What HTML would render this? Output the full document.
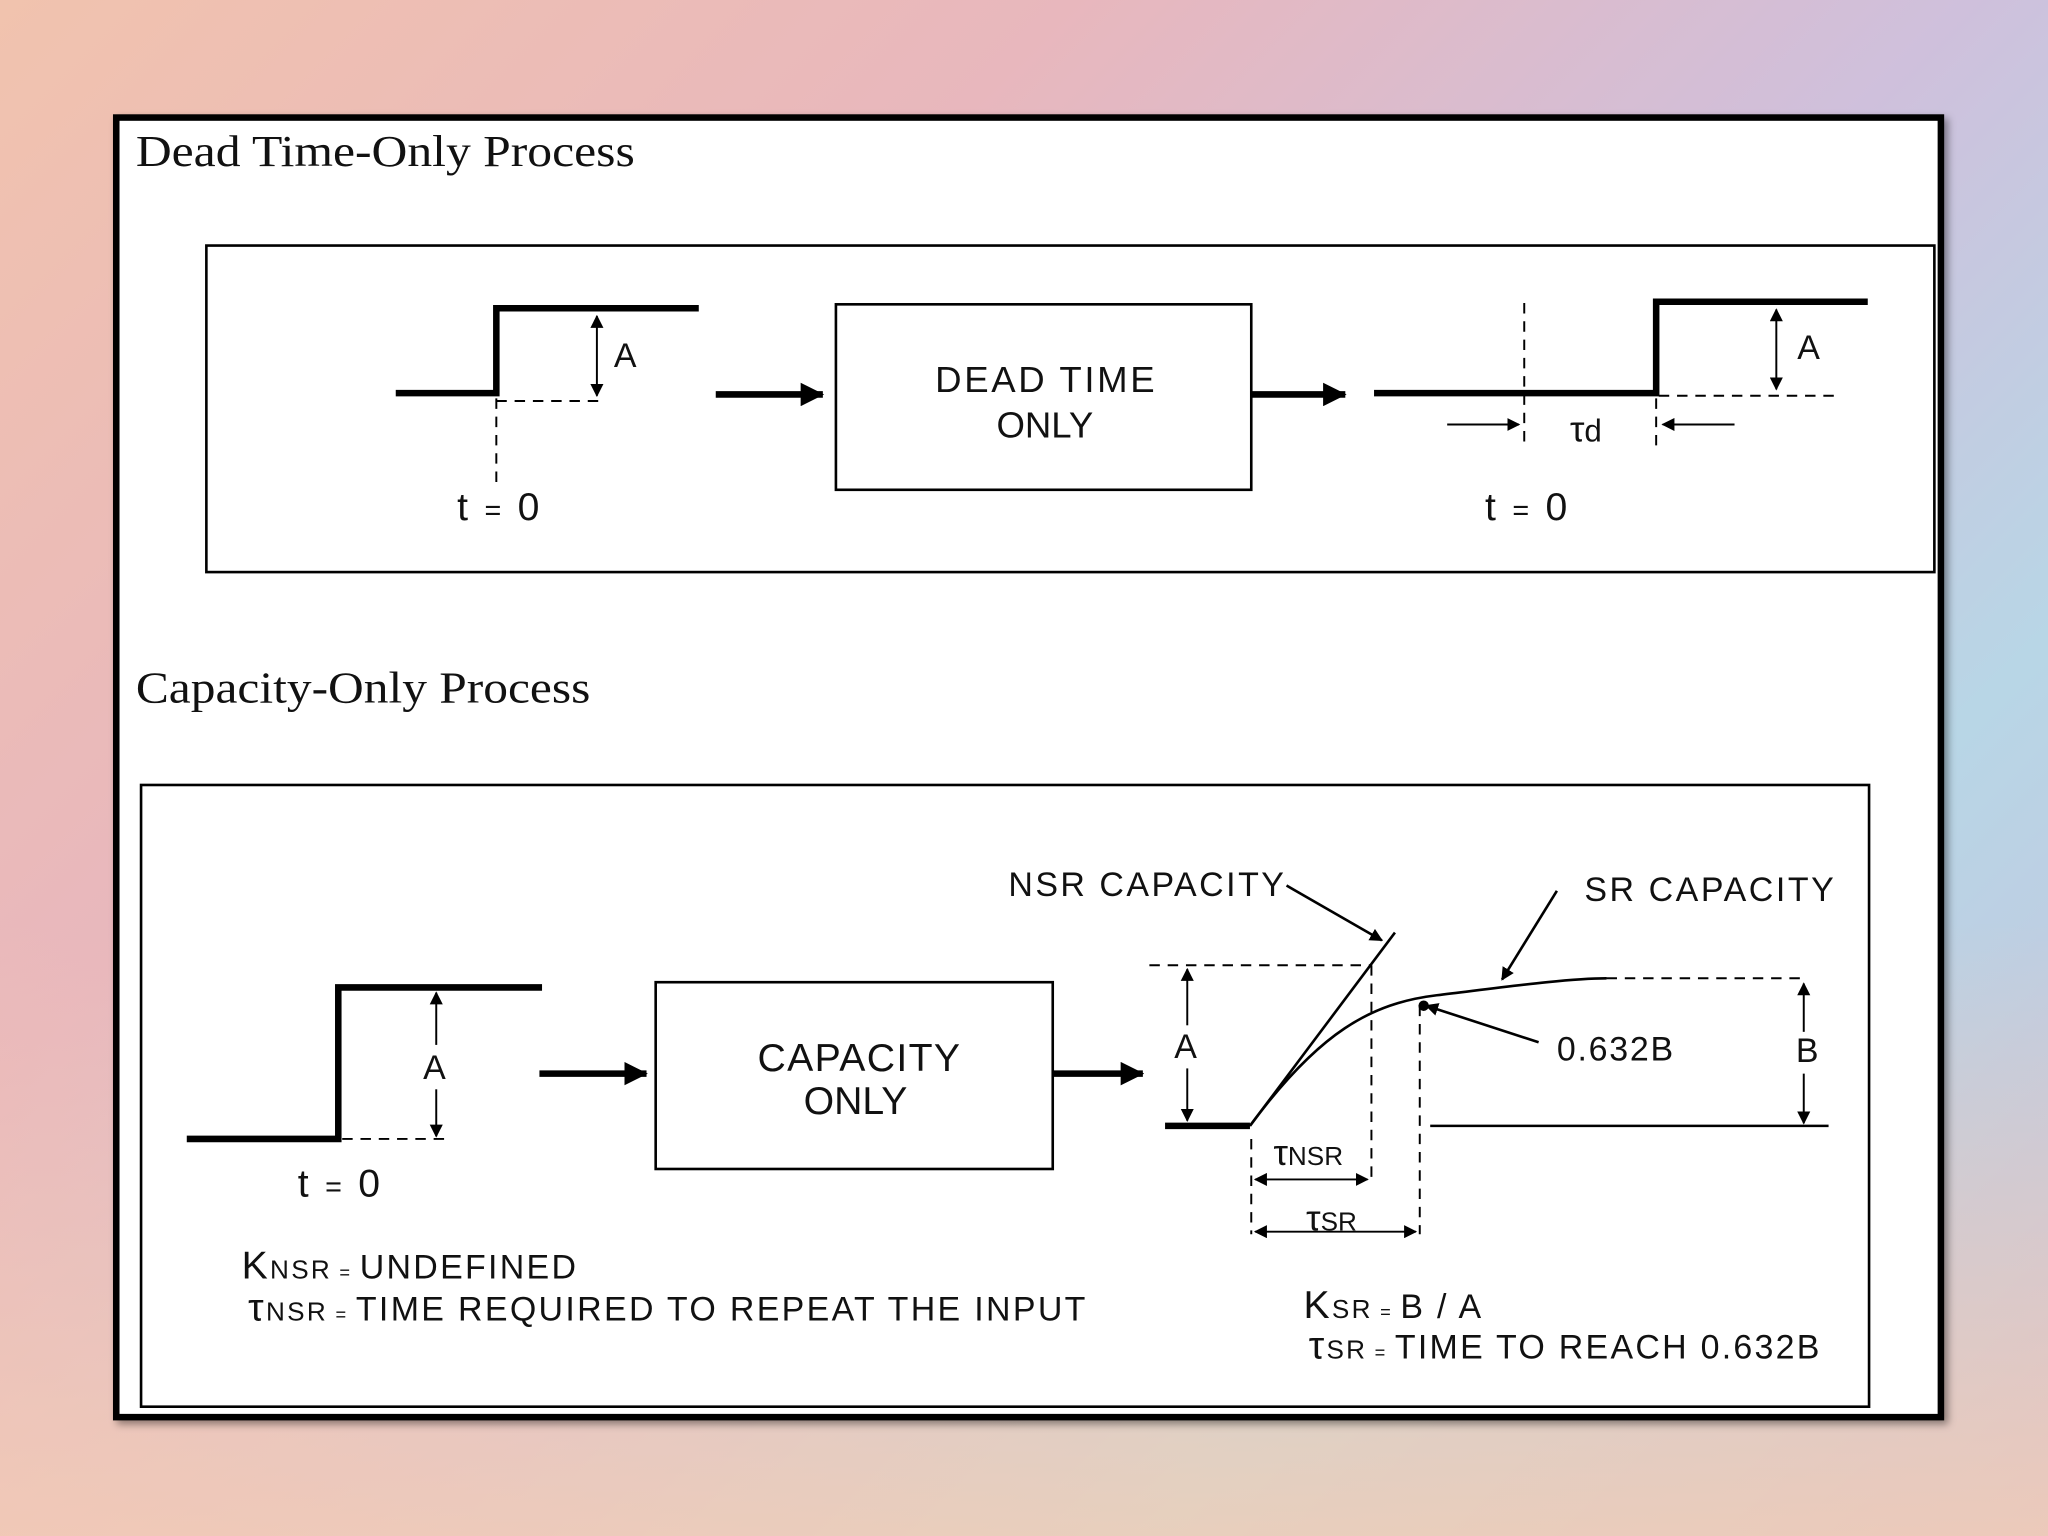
<!DOCTYPE html>
<html><head><meta charset="utf-8"><style>
html,body{margin:0;padding:0;width:2048px;height:1536px;overflow:hidden}
body{background:linear-gradient(135deg,#f1c3ae 0%,#e8b7bd 30%,#cfc0dc 55%,#b8d6e6 75%,#c8bfdc 100%)}
.bg2{position:absolute;left:0;top:0;width:2048px;height:1536px;background:linear-gradient(180deg,rgba(255,255,255,0) 60%,rgba(248,205,175,0.75) 100%)}
svg{position:absolute;left:0;top:0}
text{font-family:"Liberation Sans",sans-serif;fill:#111}
.ser{font-family:"Liberation Serif",serif}
</style></head><body><div class="bg2"></div>
<svg width="2048" height="1536" viewBox="0 0 1568 1176" preserveAspectRatio="none">
<defs>
<marker id="ah" markerWidth="10" markerHeight="10" refX="9" refY="5" orient="auto" markerUnits="userSpaceOnUse"><path d="M0,0 L10,5 L0,10 z" fill="#000"/></marker>
<marker id="big" markerWidth="18" markerHeight="18" refX="17" refY="9" orient="auto" markerUnits="userSpaceOnUse"><path d="M0,0 L18,9 L0,18 z" fill="#000"/></marker>
<marker id="as" markerWidth="10" markerHeight="10" refX="1" refY="5" orient="auto" markerUnits="userSpaceOnUse"><path d="M10,0 L0,5 L10,10 z" fill="#000"/></marker>
<filter id="sh"><feDropShadow dx="3" dy="3" stdDeviation="3" flood-opacity="0.4"/></filter>
</defs>
<rect x="89" y="90" width="1397" height="995" fill="#fff" stroke="#000" stroke-width="5" filter="url(#sh)"/>
<text x="104" y="127" class="ser" font-size="34" textLength="382" lengthAdjust="spacingAndGlyphs">Dead Time-Only Process</text>
<rect x="158" y="188" width="1323" height="250" fill="none" stroke="#000" stroke-width="2"/>
<g stroke="#000" fill="none">
<polyline points="303,301 380,301 380,236 535,236" stroke-width="5"/>
<line x1="380" y1="307" x2="458" y2="307" stroke-width="1.5" stroke-dasharray="8,6"/>
<line x1="380" y1="305" x2="380" y2="375" stroke-width="1.5" stroke-dasharray="8,6"/>
<line x1="457" y1="242" x2="457" y2="303" stroke-width="1.5" marker-start="url(#as)" marker-end="url(#ah)"/>
<line x1="548" y1="302" x2="630" y2="302" stroke-width="5" marker-end="url(#big)"/>
<rect x="640" y="233" width="318" height="142" stroke-width="2"/>
<line x1="958" y1="302" x2="1030" y2="302" stroke-width="5" marker-end="url(#big)"/>
<polyline points="1052,301 1268,301 1268,231 1430,231" stroke-width="5"/>
<line x1="1167" y1="232" x2="1167" y2="342" stroke-width="1.5" stroke-dasharray="8,6"/>
<line x1="1270" y1="303" x2="1410" y2="303" stroke-width="1.5" stroke-dasharray="8,6"/>
<line x1="1268" y1="305" x2="1268" y2="342" stroke-width="1.5" stroke-dasharray="8,6"/>
<line x1="1360" y1="237" x2="1360" y2="298" stroke-width="1.5" marker-start="url(#as)" marker-end="url(#ah)"/>
<line x1="1108" y1="325" x2="1163" y2="325" stroke-width="1.5" marker-end="url(#ah)"/>
<line x1="1328" y1="325" x2="1273" y2="325" stroke-width="1.5" marker-end="url(#ah)"/>
</g>
<text x="470" y="281" font-size="26">A</text>
<text x="350" y="398" font-size="30" textLength="63" lengthAdjust="spacing">t <tspan font-size="22">=</tspan> 0</text>
<text x="716" y="300" font-size="28" textLength="168" lengthAdjust="spacing">DEAD TIME</text>
<text x="800" y="335" font-size="28" text-anchor="middle">ONLY</text>
<text x="1376" y="275" font-size="26">A</text>
<text x="1202" y="338" font-size="28">τ<tspan font-size="24">d</tspan></text>
<text x="1137" y="398" font-size="30" textLength="63" lengthAdjust="spacing">t <tspan font-size="22">=</tspan> 0</text>

<text x="104" y="538" class="ser" font-size="34" textLength="348" lengthAdjust="spacingAndGlyphs">Capacity-Only Process</text>
<rect x="108" y="601" width="1323" height="476" fill="none" stroke="#000" stroke-width="2"/>
<g stroke="#000" fill="none">
<polyline points="143,872 259,872 259,756 415,756" stroke-width="5"/>
<line x1="262" y1="872" x2="340" y2="872" stroke-width="1.5" stroke-dasharray="8,6"/>
<line x1="334" y1="760" x2="334" y2="800" stroke-width="1.5" marker-start="url(#as)"/>
<line x1="334" y1="834" x2="334" y2="870" stroke-width="1.5" marker-end="url(#ah)"/>
<line x1="413" y1="822" x2="495" y2="822" stroke-width="5" marker-end="url(#big)"/>
<rect x="502" y="752" width="304" height="143" stroke-width="2"/>
<line x1="806" y1="822" x2="875" y2="822" stroke-width="5" marker-end="url(#big)"/>
<line x1="892" y1="862" x2="957" y2="862" stroke-width="5"/>
<line x1="880" y1="739" x2="1050" y2="739" stroke-width="1.5" stroke-dasharray="8,6"/>
<line x1="909" y1="742" x2="909" y2="785" stroke-width="1.5" marker-start="url(#as)"/>
<line x1="909" y1="818" x2="909" y2="858" stroke-width="1.5" marker-end="url(#ah)"/>
<line x1="957" y1="862" x2="1068" y2="714" stroke-width="2"/>
<path d="M957,862 C1010,790 1050,768 1100,762 S1200,749 1230,749" stroke-width="2"/>
<line x1="1230" y1="749" x2="1380" y2="749" stroke-width="1.5" stroke-dasharray="8,6"/>
<line x1="1381" y1="753" x2="1381" y2="790" stroke-width="1.5" marker-start="url(#as)"/>
<line x1="1381" y1="822" x2="1381" y2="860" stroke-width="1.5" marker-end="url(#ah)"/>
<line x1="1095" y1="862" x2="1400" y2="862" stroke-width="2"/>
<line x1="1050" y1="739" x2="1050" y2="905" stroke-width="1.5" stroke-dasharray="8,6"/>
<line x1="1087" y1="770" x2="1087" y2="945" stroke-width="1.5" stroke-dasharray="8,6"/>
<line x1="958" y1="872" x2="958" y2="945" stroke-width="1.5" stroke-dasharray="8,6"/>
<line x1="961" y1="903" x2="1047" y2="903" stroke-width="1.5" marker-start="url(#as)" marker-end="url(#ah)"/>
<line x1="961" y1="943" x2="1084" y2="943" stroke-width="1.5" marker-start="url(#as)" marker-end="url(#ah)"/>
<line x1="985" y1="678" x2="1058" y2="720" stroke-width="2" marker-end="url(#ah)"/>
<line x1="1192" y1="682" x2="1150" y2="750" stroke-width="2" marker-end="url(#ah)"/>
<line x1="1178" y1="798" x2="1092" y2="770" stroke-width="2" marker-end="url(#ah)"/>
</g>
<circle cx="1090" cy="770" r="4" fill="#000"/>
<text x="324" y="826" font-size="26">A</text>
<text x="228" y="916" font-size="30" textLength="63" lengthAdjust="spacing">t <tspan font-size="22">=</tspan> 0</text>
<text x="580" y="820" font-size="30" textLength="155" lengthAdjust="spacing">CAPACITY</text>
<text x="655" y="853" font-size="30" text-anchor="middle">ONLY</text>
<text x="899" y="810" font-size="26">A</text>
<text x="772" y="686" font-size="26" textLength="211" lengthAdjust="spacing">NSR CAPACITY</text>
<text x="1213" y="690" font-size="26" textLength="191" lengthAdjust="spacing">SR CAPACITY</text>
<text x="1192" y="812" font-size="26" textLength="89" lengthAdjust="spacing">0.632B</text>
<text x="1375" y="813" font-size="26">B</text>
<text x="975" y="892" font-size="28">τ<tspan font-size="20">NSR</tspan></text>
<text x="1000" y="942" font-size="28">τ<tspan font-size="20">SR</tspan></text>
<text x="185" y="979" font-size="30" textLength="256" lengthAdjust="spacing">K<tspan font-size="20">NSR</tspan><tspan font-size="14"> = </tspan><tspan font-size="26">UNDEFINED</tspan></text>
<text x="190" y="1011" font-size="30" textLength="641" lengthAdjust="spacing">τ<tspan font-size="20">NSR</tspan><tspan font-size="14"> = </tspan><tspan font-size="26">TIME REQUIRED TO REPEAT THE INPUT</tspan></text>
<text x="998" y="1009" font-size="30" textLength="136" lengthAdjust="spacing">K<tspan font-size="20">SR</tspan><tspan font-size="14"> = </tspan><tspan font-size="26">B / A</tspan></text>
<text x="1002" y="1040" font-size="30" textLength="391" lengthAdjust="spacing">τ<tspan font-size="20">SR</tspan><tspan font-size="14"> = </tspan><tspan font-size="26">TIME TO REACH 0.632B</tspan></text>
</svg>
</body></html>
